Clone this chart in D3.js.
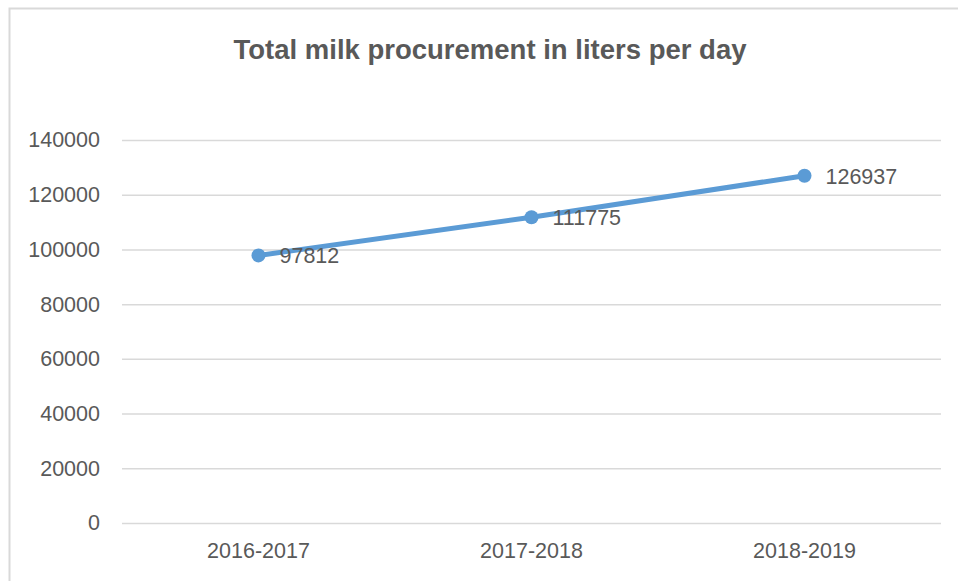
<!DOCTYPE html>
<html><head><meta charset="utf-8">
<script src="https://cdn.jsdelivr.net/npm/d3@7"></script>
<style>body{margin:0;background:#fff}svg{display:block}</style>
</head><body>
<svg id="c" width="958" height="581"></svg>
<script>
const categories = ["2016-2017", "2017-2018", "2018-2019"];
const values = [97812, 111775, 126937];
const yTicks = [0, 20000, 40000, 60000, 80000, 100000, 120000, 140000];
const title = "Total milk procurement in liters per day";

(function () {
const svg = d3.select("#c");
const font = "'Liberation Sans', Arial, sans-serif";
const grey = "#595959";
const fs = 21.5;

// outer chart border
svg.append("rect").attr("x", 9.5).attr("y", 8.5).attr("width", 960).attr("height", 600)
  .attr("fill", "none").attr("stroke", "#d9d9d9").attr("stroke-width", 2);

const pLeft = 122, pRight = 941, pTop = 140, pBottom = 523;
const x = d3.scaleBand().domain(categories).range([pLeft, pRight]).padding(0);
const y = d3.scaleLinear().domain([0, 140000]).range([pBottom, pTop]);

svg.append("text").attr("x", 490).attr("y", 59).attr("text-anchor", "middle")
  .attr("font-family", font).attr("font-weight", "bold").attr("font-size", 27.5)
  .attr("fill", grey).text(title);

const yAxis = d3.axisLeft(y).tickValues(yTicks).tickSize(-(pRight - pLeft)).tickPadding(22).tickFormat(d => d);
const gy = svg.append("g").attr("transform", `translate(${pLeft},0)`).call(yAxis);
gy.select(".domain").remove();
gy.selectAll(".tick line").attr("stroke", "#d9d9d9").attr("stroke-width", 1.5);
gy.selectAll(".tick text").attr("font-family", font).attr("font-size", fs).attr("fill", grey);

const xAxis = d3.axisBottom(x).tickSize(0).tickPadding(20);
const gx = svg.append("g").attr("transform", `translate(0,${pBottom})`).call(xAxis);
gx.select(".domain").remove();
gx.selectAll(".tick text").attr("font-family", font).attr("font-size", fs).attr("fill", grey);

const pts = categories.map((c, i) => ({c, v: values[i]}));
const cx = d => x(d.c) + x.bandwidth() / 2;

svg.append("path").datum(pts)
  .attr("d", d3.line().x(cx).y(d => y(d.v)))
  .attr("fill", "none").attr("stroke", "#5B9BD5").attr("stroke-width", 5).attr("stroke-linecap", "round");

svg.selectAll("circle.pt").data(pts).join("circle").attr("class", "pt")
  .attr("cx", cx).attr("cy", d => y(d.v)).attr("r", 7).attr("fill", "#5B9BD5");

svg.selectAll("text.lbl").data(pts).join("text").attr("class", "lbl")
  .attr("x", d => cx(d) + 21).attr("y", d => y(d.v) + 8)
  .attr("font-family", font).attr("font-size", fs).attr("fill", grey)
  .text(d => d.v);
})();
</script>
</body></html>
